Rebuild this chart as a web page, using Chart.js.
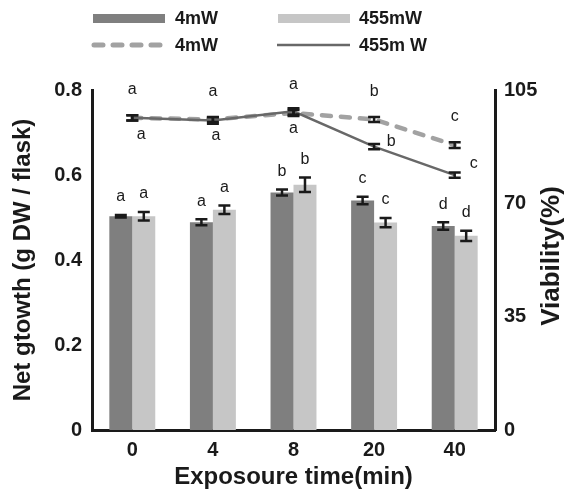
<!DOCTYPE html>
<html>
<head>
<meta charset="utf-8">
<script src="https://cdn.jsdelivr.net/npm/chart.js@4/dist/chart.umd.min.js"></script>
<style>
  html, body { margin: 0; padding: 0; background: #fff; }
  #wrap { width: 569px; height: 492px; }
</style>
</head>
<body>
<div id="wrap"><canvas id="chart" width="569" height="492"></canvas></div>
<script>
// exposure time categories
const categories = ['0', '4', '8', '20', '40'];

// net growth (g DW / flask), bars
const growth4mW = [0.503, 0.489, 0.559, 0.540, 0.480];
const growth4mWErr = [0.003, 0.007, 0.007, 0.009, 0.009];
const growth455mW = [0.503, 0.518, 0.577, 0.488, 0.457];
const growth455mWErr = [0.010, 0.010, 0.017, 0.011, 0.012];

// viability (%), lines
const viab4mW = [96.4, 95.9, 97.9, 95.9, 88.0];
const viab4mWErr = [0.8, 0.8, 0.9, 0.8, 0.9];
const viab455mW = [96.4, 95.6, 98.4, 87.5, 78.7];
const viab455mWErr = [0.8, 1.0, 1.0, 0.8, 0.8];

// significance letters
const growth4mWLetters = ['a', 'a', 'b', 'c', 'd'];
const growth455mWLetters = ['a', 'a', 'b', 'c', 'd'];
const viab4mWLetters = ['a', 'a', 'a', 'b', 'c'];
const viab455mWLetters = ['a', 'a', 'a', 'b', 'c'];

// tick labels
const growthTicks = [0, 0.2, 0.4, 0.6, 0.8];
const viabTicks = [0, 35, 70, 105];

const FONT = "'Liberation Sans', Arial, sans-serif";
const INK = '#1a1a1a';
const DARK = '#7f7f7f';
const LIGHT = '#c6c6c6';
const DASH = '#a2a2a2';
const SOLID = '#686868';

function drawCap(ctx, x, y1, y2, half) {
  ctx.beginPath();
  ctx.moveTo(x, y1); ctx.lineTo(x, y2);
  ctx.moveTo(x - half, y1); ctx.lineTo(x + half, y1);
  ctx.moveTo(x - half, y2); ctx.lineTo(x + half, y2);
  ctx.stroke();
}

const extrasPlugin = {
  id: 'extras',
  afterDatasetsDraw(chart) {
    const ctx = chart.ctx;
    const y = chart.scales.y;
    const y1 = chart.scales.y1;
    ctx.save();
    ctx.strokeStyle = INK;
    ctx.lineWidth = 2.5;

    const bars = [
      [0, growth4mW, growth4mWErr, growth4mWLetters],
      [1, growth455mW, growth455mWErr, growth455mWLetters],
    ];
    ctx.font = '16px ' + FONT;
    ctx.fillStyle = INK;
    ctx.textAlign = 'center';
    ctx.textBaseline = 'middle';
    bars.forEach(([idx, vals, errs, letters]) => {
      const meta = chart.getDatasetMeta(idx);
      meta.data.forEach((el, i) => {
        const top = y.getPixelForValue(vals[i] + errs[i]);
        const bot = y.getPixelForValue(vals[i] - errs[i]);
        drawCap(ctx, el.x, top, bot, 6);
        ctx.fillText(letters[i], el.x, top - 18);
      });
    });

    // viability error bars and letters
    const lines = [
      [2, viab4mW, viab4mWErr],
      [3, viab455mW, viab455mWErr],
    ];
    lines.forEach(([idx, vals, errs]) => {
      const meta = chart.getDatasetMeta(idx);
      meta.data.forEach((el, i) => {
        drawCap(ctx, el.x, y1.getPixelForValue(vals[i] + errs[i]),
          y1.getPixelForValue(vals[i] - errs[i]), 6);
      });
    });
    const m4 = chart.getDatasetMeta(2);
    m4.data.forEach((el, i) => {
      ctx.fillText(viab4mWLetters[i], el.x, el.y - 28);
    });
    // letters beside the 455mW line
    const off455 = [[9, 17], [3, 15], [0, 17], [17, -5], [19, -12]];
    const m455 = chart.getDatasetMeta(3);
    m455.data.forEach((el, i) => {
      ctx.fillText(viab455mWLetters[i], el.x + off455[i][0], el.y + off455[i][1]);
    });
    ctx.restore();
  },
  afterDraw(chart) {
    const ctx = chart.ctx;
    ctx.save();
    // right axis title, reading bottom to top
    ctx.translate(552, 256);
    ctx.rotate(-Math.PI / 2);
    ctx.font = 'bold 26px ' + FONT;
    ctx.fillStyle = INK;
    ctx.textAlign = 'center';
    ctx.textBaseline = 'middle';
    ctx.fillText('Viability(%)', 0, 0);
    ctx.restore();

    // legend, two by two
    ctx.save();
    ctx.font = 'bold 18px ' + FONT;
    ctx.textBaseline = 'middle';
    const ds = chart.data.datasets;
    ctx.fillStyle = ds[0].backgroundColor;
    ctx.fillRect(93, 14, 72, 9);
    ctx.fillStyle = ds[1].backgroundColor;
    ctx.fillRect(278, 14, 72, 9);
    ctx.lineCap = 'round';
    ctx.strokeStyle = ds[2].borderColor;
    ctx.lineWidth = 5;
    ctx.setLineDash([9, 10]);
    ctx.beginPath(); ctx.moveTo(94, 45); ctx.lineTo(164, 45); ctx.stroke();
    ctx.setLineDash([]);
    ctx.lineCap = 'butt';
    ctx.strokeStyle = ds[3].borderColor;
    ctx.lineWidth = 2.5;
    ctx.beginPath(); ctx.moveTo(277, 45); ctx.lineTo(350, 45); ctx.stroke();
    ctx.fillStyle = INK;
    ctx.fillText(ds[0].label, 175, 19);
    ctx.fillText(ds[1].label, 359, 19);
    ctx.fillText(ds[2].label, 175, 46);
    ctx.fillText(ds[3].label, 359, 46);
    ctx.restore();
  }
};

new Chart(document.getElementById('chart'), {
  type: 'bar',
  data: {
    labels: categories,
    datasets: [
      {
        label: '4mW',
        data: growth4mW,
        backgroundColor: DARK,
        yAxisID: 'y',
        order: 2,
      },
      {
        label: '455mW',
        data: growth455mW,
        backgroundColor: LIGHT,
        yAxisID: 'y',
        order: 2,
      },
      {
        type: 'line',
        label: '4mW',
        data: viab4mW,
        borderColor: DASH,
        borderWidth: 4.5,
        borderDash: [9, 10],
        borderCapStyle: 'round',
        pointRadius: 0,
        tension: 0,
        yAxisID: 'y1',
        order: 1,
      },
      {
        type: 'line',
        label: '455m W',
        data: viab455mW,
        borderColor: SOLID,
        borderWidth: 2.5,
        pointRadius: 0,
        tension: 0,
        yAxisID: 'y1',
        order: 0,
      },
    ],
  },
  options: {
    responsive: false,
    animation: false,
    layout: {padding: {top: 90, left: 0, right: 0, bottom: 0}},
    datasets: {bar: {categoryPercentage: 0.57, barPercentage: 1.0}},
    plugins: {legend: {display: false}, tooltip: {enabled: false}},
    scales: {
      x: {
        grid: {display: false, drawTicks: false},
        border: {display: true, width: 3, color: INK},
        ticks: {color: INK, padding: 8, font: {family: FONT, size: 20, weight: 'bold'}},
        title: {
          display: true, text: 'Exposoure time(min)', color: INK,
          font: {family: FONT, size: 24, weight: 'bold'}, padding: {top: 0, bottom: 0},
        },
        afterFit(scale) { scale.height = 62; },
      },
      y: {
        position: 'left',
        min: 0, max: 0.8,
        afterBuildTicks(scale) { scale.ticks = growthTicks.map(v => ({value: v})); },
        grid: {display: false, drawTicks: false},
        border: {display: true, width: 3, color: INK},
        ticks: {
          color: INK, padding: 10,
          font: {family: FONT, size: 20, weight: 'bold'},
          callback: v => (v === 0 ? '0' : v.toFixed(1)),
        },
        title: {
          display: true, text: 'Net gtowth (g DW / flask)', color: INK,
          font: {family: FONT, size: 24, weight: 'bold'}, padding: {top: 9, bottom: 0},
        },
        afterFit(scale) { scale.width = 92; },
      },
      y1: {
        position: 'right',
        min: 0, max: 105,
        afterBuildTicks(scale) { scale.ticks = viabTicks.map(v => ({value: v})); },
        grid: {display: false, drawTicks: false},
        border: {display: true, width: 3, color: INK},
        ticks: {color: INK, padding: 9, font: {family: FONT, size: 20, weight: 'bold'}},
        afterFit(scale) { scale.width = 74; },
      },
    },
  },
  plugins: [extrasPlugin],
});
</script>
</body>
</html>
